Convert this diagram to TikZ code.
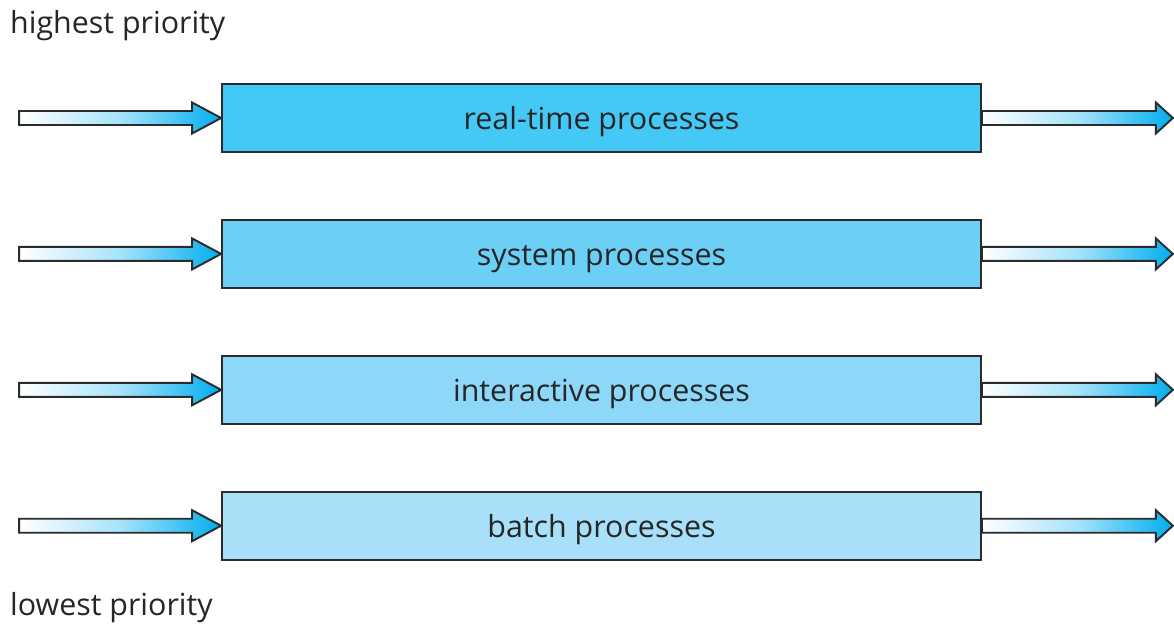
\documentclass[tikz,border=0pt]{standalone}
\usepackage{fontspec}
\setmainfont{Open Sans}
\usepackage{xcolor}
\usetikzlibrary{positioning,calc}

\definecolor{qone}{HTML}{44C8F5}
\definecolor{qtwo}{HTML}{6CCFF6}
\definecolor{qthree}{HTML}{8DD8F8}
\definecolor{qfour}{HTML}{A8E0F9}
\definecolor{arrowend}{HTML}{00AEEF}
\definecolor{edge}{HTML}{2B2B2B}

% fat arrow from #1 to #2, head length #3
\newcommand{\fatarrow}[3]{%
  \shade[fatarrow] let \p1=(#1), \p2=(#2) in
    (\x1,\y1+0.14cm) -- (\x2-#3,\y1+0.14cm) -- (\x2-#3,\y1+0.31cm) -- (\x2,\y1)
    -- (\x2-#3,\y1-0.31cm) -- (\x2-#3,\y1-0.14cm) -- (\x1,\y1-0.14cm) -- cycle;}

\begin{document}
\begin{tikzpicture}[x=0.02cm, y=-0.02cm, node distance=1.32cm,
  queue/.style={draw=edge, line width=1.1pt, minimum width=15.18cm, minimum height=1.36cm, inner sep=0pt, text height=18pt, text depth=4.5pt, font=\fontsize{17.3}{20}\selectfont, text=black!85},
  fatarrow/.style={draw=edge, line width=1.1pt, line join=miter, left color=white, right color=arrowend, middle color=arrowend!35},
  label/.style={anchor=west, font=\fontsize{17.3}{20}\selectfont, text=black!85}]
  \useasboundingbox (0,0) rectangle (1174,628);

  \node[queue, fill=qone] (rt) at (601.5,118) {real-time processes};
  \node[queue, fill=qtwo, below=of rt] (sys) {system processes};
  \node[queue, fill=qthree, below=of sys] (inter) {interactive processes};
  \node[queue, fill=qfour, below=of inter] (batch) {batch processes};

  \node[label] (high) at (4,26) {highest priority};
  \node[label] (low) at (4,608) {lowest priority};

  \foreach \q in {rt,sys,inter,batch} {
    \coordinate (in-\q) at ($(\q.west)+(-202,0)$);
    \coordinate (out-\q) at ($(\q.east)+(191,0)$);
    \fatarrow{in-\q}{\q.west}{0.58cm}
    \fatarrow{\q.east}{out-\q}{0.34cm}
  }
\end{tikzpicture}
\end{document}
